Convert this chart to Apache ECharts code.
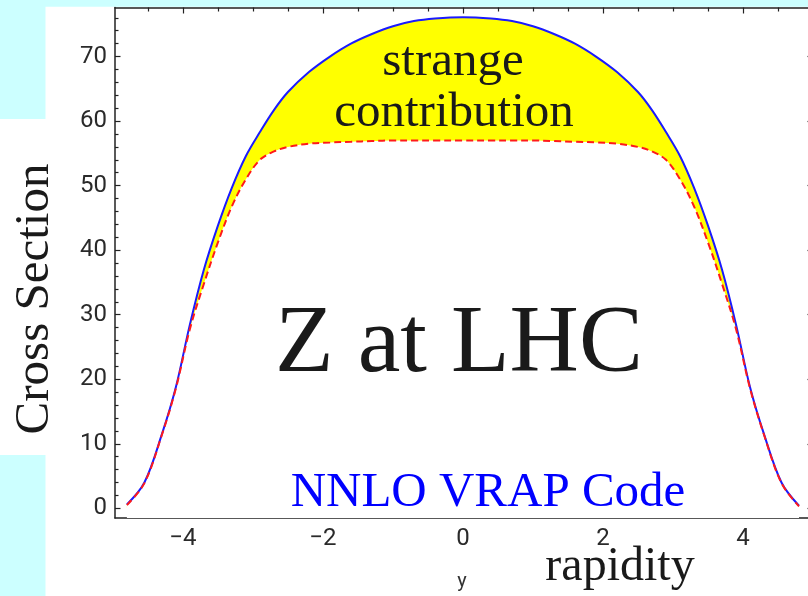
<!DOCTYPE html>
<html>
<head>
<meta charset="utf-8">
<script src="https://cdn.jsdelivr.net/npm/echarts@6/dist/echarts.min.js"></script>
<style>
  html, body { margin: 0; padding: 0; background: #ccffff; overflow: hidden; }
  #chart { width: 820px; height: 596px; }
</style>
</head>
<body>
<div id="chart"></div>
<script>
// Rapidity grid of the VRAP output
const rapidity = [-4.8, -4.55, -4.3, -4.1, -3.9, -3.7, -3.5, -3.3, -3.1, -2.9, -2.7, -2.5, -2.2, -1.9, -1.6, -1.3, -1.0, -0.7, -0.4, 0,
                  0.4, 0.7, 1.0, 1.3, 1.6, 1.9, 2.2, 2.5, 2.7, 2.9, 3.1, 3.3, 3.5, 3.7, 3.9, 4.1, 4.3, 4.55, 4.8];

// Full cross section (including strange quarks)
const totalXS = [0.6, 4.0, 11.5, 18.8, 28.5, 37.0, 43.8, 49.7, 54.6, 58.3, 61.7, 64.5, 67.6, 70.0, 72.0, 73.5, 74.7, 75.5, 75.9, 76.1,
                 75.9, 75.5, 74.7, 73.5, 72.0, 70.0, 67.6, 64.5, 61.7, 58.3, 54.6, 49.7, 43.8, 37.0, 28.5, 18.8, 11.5, 4.0, 0.4];

// Cross section without the strange contribution
const noStrangeXS = [0.5, 3.9, 11.4, 18.6, 27.8, 34.8, 41.2, 46.8, 51.0, 54.0, 55.3, 56.0, 56.5, 56.7, 56.8, 56.9, 57.0, 57.0, 57.0, 57.0,
                     57.0, 57.0, 57.0, 56.9, 56.8, 56.7, 56.5, 56.0, 55.3, 54.0, 51.0, 46.8, 41.2, 34.8, 27.8, 18.6, 11.4, 3.9, 0.3];

// Axis ticks
const xMajorTicks = [-4, -2, 0, 2, 4];
const xMinorTicks = [-4.5, -3.5, -3, -2.5, -1.5, -1, -0.5, 0.5, 1, 1.5, 2.5, 3, 3.5, 4.5];
const yMajorTicks = [0, 10, 20, 30, 40, 50, 60, 70];
const yMinorTicks = [2, 4, 6, 8, 12, 14, 16, 18, 22, 24, 26, 28, 32, 34, 36, 38, 42, 44, 46, 48,
                     52, 54, 56, 58, 62, 64, 66, 68, 72, 74, 76];

const pairs = ys => rapidity.map((x, i) => [x, ys[i]]);

const X_MIN = -4.97, X_MAX = 5.0, Y_MIN = -1.5, Y_MAX = 77.6;
const AXIS_COLOR = '#222222';
const LABEL_FONT = 'Roboto';
const SERIF = '"Liberation Serif", "Times New Roman", serif';
const SMOOTH = 0.35;
const PANEL_CYAN = '#ccffff';

const minus = v => (v < 0 ? '\u2212' + Math.abs(v) : String(v));

function xAx(position, ticks, len, showLine, showLabel) {
  return {
    type: 'value', position, min: X_MIN, max: X_MAX,
    axisLine: { show: showLine, onZero: false, lineStyle: { color: AXIS_COLOR, width: 1.5 } },
    axisTick: { show: true, inside: true, length: len, customValues: ticks, lineStyle: { color: AXIS_COLOR, width: 1.2 } },
    axisLabel: showLabel ? {
      show: true, customValues: ticks, formatter: minus, margin: 9,
      color: '#2a2a2a', fontFamily: LABEL_FONT, fontSize: 24
    } : { show: false },
    splitLine: { show: false }
  };
}

function yAx(position, ticks, len, showLine, showLabel) {
  return {
    type: 'value', position, min: Y_MIN, max: Y_MAX,
    axisLine: { show: showLine, onZero: false, lineStyle: { color: AXIS_COLOR, width: 1.5 } },
    axisTick: { show: true, inside: true, length: len, customValues: ticks, lineStyle: { color: AXIS_COLOR, width: 1.2 } },
    axisLabel: showLabel ? {
      show: true, customValues: ticks, margin: 8,
      color: '#2a2a2a', fontFamily: LABEL_FONT, fontSize: 24
    } : { show: false },
    splitLine: { show: false }
  };
}

const chart = echarts.init(document.getElementById('chart'), null, { renderer: 'canvas' });

chart.setOption({
  animation: false,
  backgroundColor: PANEL_CYAN,
  grid: { left: 115, right: 7, top: 7.5, bottom: 78, containLabel: false },
  xAxis: [
    xAx('bottom', xMajorTicks, 6, true, true),
    xAx('bottom', xMinorTicks, 4, false, false),
    xAx('top', xMajorTicks, 6, true, false),
    xAx('top', xMinorTicks, 4, false, false)
  ],
  yAxis: [
    yAx('left', yMajorTicks, 5.5, true, true),
    yAx('left', yMinorTicks, 3.5, false, false),
    yAx('right', yMajorTicks, 5.5, true, false),
    yAx('right', yMinorTicks, 3.5, false, false)
  ],
  series: [
    {
      // yellow fill under the full result ...
      type: 'line', data: pairs(totalXS), smooth: SMOOTH, symbol: 'none',
      lineStyle: { width: 0, opacity: 0 },
      areaStyle: { color: '#ffff00', opacity: 1, origin: 0 }, z: 2
    },
    {
      // ... cleared again below the no-strange result, leaving the strange band
      type: 'line', data: pairs(noStrangeXS), smooth: SMOOTH, symbol: 'none',
      lineStyle: { width: 0, opacity: 0 },
      areaStyle: { color: '#ffffff', opacity: 1, origin: 'start' }, z: 3
    },
    {
      name: 'total', type: 'line', data: pairs(totalXS), smooth: SMOOTH, symbol: 'none',
      lineStyle: { color: '#1a1aff', width: 2 }, z: 4
    },
    {
      name: 'no strange', type: 'line', data: pairs(noStrangeXS), smooth: SMOOTH, symbol: 'none',
      lineStyle: { color: '#ff1a1a', width: 2, type: [7, 4] }, z: 5
    }
  ],
  graphic: {
    elements: [
      // white slide panels over the cyan page
      { type: 'rect', z: -100, silent: true, shape: { x: 45.5, y: 6.8, width: 780, height: 600 }, style: { fill: '#ffffff' } },
      { type: 'rect', z: -100, silent: true, shape: { x: 0, y: 119, width: 46, height: 336 }, style: { fill: '#ffffff' } },
      {
        type: 'text', z: 100, x: 453, y: 62.5,
        style: { text: 'strange', font: '49px ' + SERIF, fill: '#1a1a1a', textAlign: 'center', textVerticalAlign: 'middle' }
      },
      {
        type: 'text', z: 100, x: 454, y: 113.5,
        style: { text: 'contribution', font: '49px ' + SERIF, fill: '#1a1a1a', textAlign: 'center', textVerticalAlign: 'middle' }
      },
      {
        type: 'text', z: 100, x: 459, y: 345.5,
        style: { text: 'Z at LHC', font: '96px ' + SERIF, fill: '#1a1a1a', textAlign: 'center', textVerticalAlign: 'middle' }
      },
      {
        type: 'text', z: 100, x: 488, y: 493.5,
        style: { text: 'NNLO VRAP Code', font: '49px ' + SERIF, fill: '#0000ff', textAlign: 'center', textVerticalAlign: 'middle' }
      },
      {
        type: 'text', z: 100, x: 620, y: 567,
        style: { text: 'rapidity', font: '48px ' + SERIF, fill: '#1a1a1a', textAlign: 'center', textVerticalAlign: 'middle' }
      },
      {
        type: 'text', z: 100, x: 462, y: 582,
        style: { text: 'y', font: '20px ' + LABEL_FONT, fill: '#333333', textAlign: 'center', textVerticalAlign: 'middle' }
      },
      {
        type: 'text', z: 100, x: 35.5, y: 299, rotation: Math.PI / 2,
        style: { text: 'Cross Section', font: '49px ' + SERIF, fill: '#1a1a1a', textAlign: 'center', textVerticalAlign: 'middle' }
      }
    ]
  }
});
</script>
</body>
</html>
